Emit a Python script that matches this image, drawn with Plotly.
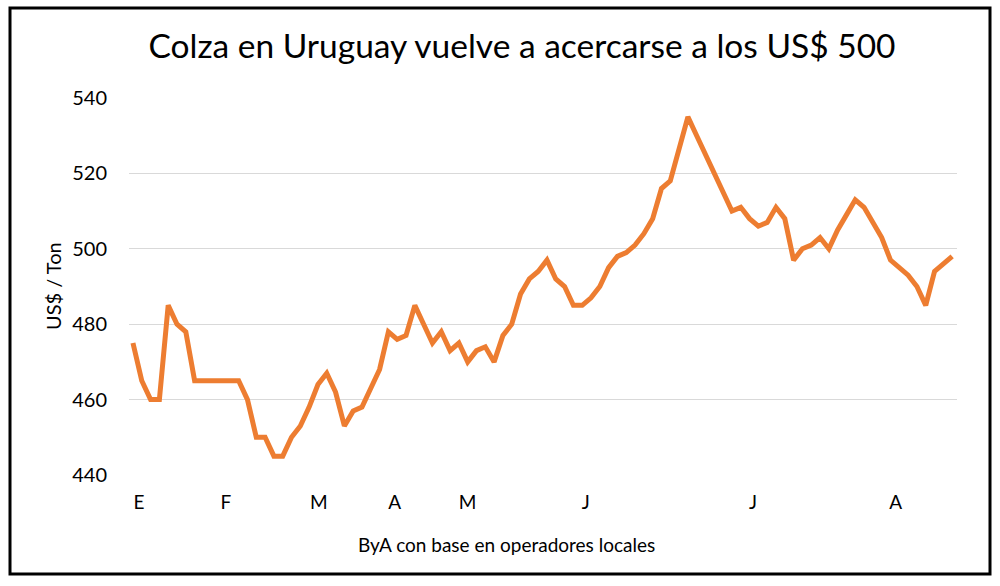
import plotly.graph_objects as go

# Data (weekly prices, US$/Ton)
prices = [475, 465, 460, 460, 485, 480, 478, 465, 465, 465,
          465, 465, 465, 460, 450, 450, 445, 445, 450, 453,
          458, 464, 467, 462, 453, 457, 458, 463, 468, 478,
          476, 477, 485, 480, 475, 478, 473, 475, 470, 473,
          474, 470, 477, 480, 488, 492, 494, 497, 492, 490,
          485, 485, 487, 490, 495, 498, 499, 501, 504, 508,
          516, 518, 526, 535, 530, 525, 520, 515, 510, 511,
          508, 506, 507, 511, 508, 497, 500, 501, 503, 500,
          505, 509, 513, 511, 507, 503, 497, 495, 493, 490,
          485, 494, 496, 498]
weeks = list(range(len(prices)))

month_labels = ["E", "F", "M", "A", "M", "J", "J", "A"]
month_pos = [0.68, 10.56, 21.1, 29.7, 38.0, 51.4, 70.4, 86.6]
y_ticks = [440, 460, 480, 500, 520, 540]

FONT = "Lato"

fig = go.Figure()
fig.add_trace(go.Scatter(
    x=weeks, y=prices, mode="lines",
    line=dict(color="#ED7D31", width=5),
    hoverinfo="skip", showlegend=False,
))

fig.update_layout(
    width=1000, height=586,
    margin=dict(l=129, r=43, t=98, b=111),
    paper_bgcolor="white", plot_bgcolor="white",
    font=dict(family=FONT, color="black"),
    title=dict(text="Colza en Uruguay vuelve a acercarse a los US$ 500",
               x=0.522, xanchor="center", y=1 - 46 / 586, yanchor="middle",
               font=dict(family=FONT, size=33.5, color="black")),
)
fig.update_xaxes(
    range=[-0.45, 93.55], tickmode="array", tickvals=month_pos, ticktext=month_labels,
    showgrid=False, zeroline=False, showline=False, ticks="",
    tickfont=dict(size=19, color="black"), ticklabelstandoff=14,
)
fig.update_yaxes(
    range=[440, 540], tickmode="array", tickvals=y_ticks,
    showgrid=True, gridcolor="#D9D9D9", gridwidth=1.3, zeroline=False,
    showline=False, ticks="", tickfont=dict(size=20, color="black"),
    ticklabelstandoff=21,
)

fig.add_annotation(text="US$ / Ton", xref="paper", yref="paper",
                   x=(53 - 129) / 828, y=(475 - 286) / 377, textangle=-90,
                   showarrow=False, xanchor="center", yanchor="middle",
                   font=dict(family=FONT, size=20, color="black"))
fig.add_annotation(text="ByA con base en operadores locales", xref="paper", yref="paper",
                   x=(506 - 129) / 828, y=(475 - 544) / 377,
                   showarrow=False, xanchor="center", yanchor="middle",
                   font=dict(family=FONT, size=19, color="black"))

# outer frame
fig.add_shape(type="rect", xref="paper", yref="paper",
              x0=(10 - 129) / 828, x1=(990 - 129) / 828,
              y0=(475 - 574) / 377, y1=(475 - 8) / 377,
              line=dict(color="black", width=3), fillcolor="rgba(0,0,0,0)", layer="below")

fig.write_html("out.html", config={"displayModeBar": False},
               post_script="document.body.style.margin='0';document.body.style.overflow='hidden';")
